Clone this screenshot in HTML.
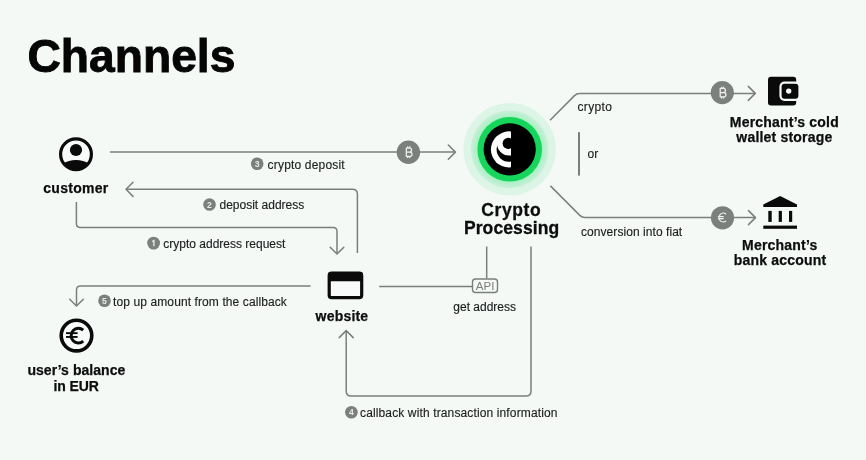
<!DOCTYPE html>
<html><head><meta charset="utf-8">
<style>
html,body{margin:0;padding:0;background:#f4f9f6;width:866px;height:460px;overflow:hidden}
svg{display:block;font-family:"Liberation Sans",sans-serif;will-change:transform}
.ln{fill:none;stroke:#7a7f7b;stroke-width:1.5}
.ah{fill:none;stroke:#7a7f7b;stroke-width:1.5;stroke-linecap:round;stroke-linejoin:round}
.b{font-weight:700;fill:#0d0d0d;font-size:14px;letter-spacing:0.2px;stroke:#0d0d0d;stroke-width:0.25}
.r{font-weight:400;fill:#1e1e1e;font-size:12px;stroke:#1e1e1e;stroke-width:0.15}
.num{font-size:8.6px;font-weight:700;fill:#e8e8e8;text-anchor:middle}
.gc{fill:#7b807c}
</style></head>
<body>
<svg width="866" height="460" viewBox="0 0 866 460">
<defs>
  <radialGradient id="halo2" cx="509.7" cy="149.3" r="38.9" gradientUnits="userSpaceOnUse"><stop offset="0.83" stop-color="#a8f1c3"/><stop offset="1" stop-color="#cbefda"/></radialGradient>
  <clipPath id="cpc"><rect x="480" y="120" width="31" height="60"/></clipPath>
  <clipPath id="custc"><circle cx="76" cy="154.2" r="15.2"/></clipPath>
</defs>

<!-- Title -->
<text x="27.5" y="72" font-size="46.2" font-weight="700" fill="#050505" stroke="#050505" stroke-width="0.9">Channels</text>

<!-- customer icon -->
<circle cx="76" cy="154.2" r="15.4" fill="#f7faf8" stroke="#0a0a0a" stroke-width="3.2"/>
<circle cx="76" cy="150" r="6.1" fill="#0a0a0a"/>
<ellipse cx="76" cy="172" rx="18" ry="12" fill="#0a0a0a" clip-path="url(#custc)"/>
<text class="b" x="75.9" y="192.7" text-anchor="middle" style="letter-spacing:0.3px">customer</text>

<!-- line 3: customer -> CP -->
<path class="ln" d="M110,152.1 H455"/>
<path class="ah" d="M448.3,145 L455.4,152.1 L448.3,159.2"/>
<circle class="gc" cx="408.4" cy="152.2" r="11.7"/>
<g transform="translate(408.9,152.2)" fill="none" stroke="#f0f0f0" stroke-width="1.25" stroke-linejoin="round"><path d="M-2.6,-4.2 H0.6 A2,2 0 0 1 0.6,-0.05 H-2.6 Z M-2.6,-0.05 H1 A2.1,2.1 0 0 1 1,4.2 H-2.6 Z"/><path d="M-1.2,-4.2 V-5.9 M0.8,-4.2 V-5.9 M-1.2,4.2 V5.9 M0.8,4.2 V5.9"/></g>
<circle class="gc" cx="257.2" cy="163.8" r="6.3"/>
<text class="num" x="257.2" y="166.9">3</text>
<text class="r" x="267.6" y="168.7" letter-spacing="0.18">crypto deposit</text>

<!-- line 2: website -> customer -->
<path class="ln" d="M357.4,253 V194.3 Q357.4,189.3 352.4,189.3 H126"/>
<path class="ah" d="M133,182.2 L126,189.3 L133,196.4"/>
<circle class="gc" cx="209.5" cy="204.5" r="6.3"/>
<text class="num" x="209.5" y="207.6">2</text>
<text class="r" x="219.5" y="209.1">deposit address</text>

<!-- line 1: customer -> website -->
<path class="ln" d="M76.4,202 V223.5 Q76.4,227.5 80.4,227.5 H333 Q337,227.5 337,231.5 V254"/>
<path class="ah" d="M330.2,247.2 L337,254 L343.8,247.2"/>
<circle class="gc" cx="153.6" cy="243.1" r="6.4"/>
<path d="M152,240.9 L153.6,239.7 H154.6 V246.3 H153.2 V241.6 L152,242.3 Z" fill="#e6e6e6"/>
<text class="r" x="163.3" y="247.6">crypto address request</text>

<!-- line 5: website -> balance -->
<path class="ln" d="M310.6,286 H80.5 Q76.5,286 76.5,290 V306"/>
<path class="ah" d="M69.7,299.2 L76.5,306 L83.3,299.2"/>
<circle class="gc" cx="104.5" cy="300.7" r="6.3"/>
<text class="num" x="104.5" y="303.8">5</text>
<text class="r" x="113.1" y="305.8" letter-spacing="0.1">top up amount from the callback</text>

<!-- user's balance icon -->
<circle cx="76.5" cy="335.6" r="15.3" fill="#f7faf8" stroke="#0a0a0a" stroke-width="3.6"/>
<path d="M83.2,330.2 A7.2,7.4 0 1 0 83.2,341.2" fill="none" stroke="#0a0a0a" stroke-width="3"/>
<rect x="66" y="332.2" width="11.6" height="1.9" fill="#0a0a0a"/>
<rect x="66" y="336" width="11.6" height="1.9" fill="#0a0a0a"/>
<text class="b" x="76.4" y="375" text-anchor="middle" style="letter-spacing:0.05px">user’s balance</text>
<text class="b" x="76.1" y="390.5" text-anchor="middle" style="letter-spacing:-0.1px">in EUR</text>

<!-- website icon -->
<rect x="329.2" y="273.2" width="32.5" height="24.5" rx="2.5" fill="#f7faf8" stroke="#0a0a0a" stroke-width="3.2"/>
<rect x="328" y="272" width="35" height="9.2" rx="2.5" fill="#0a0a0a"/>
<text class="b" x="342" y="320.7" text-anchor="middle">website</text>

<!-- website -> API -->
<path class="ln" d="M379.2,286.6 H472"/>
<path class="ln" d="M486.7,246.5 V278.3"/>
<rect x="472.5" y="279" width="25" height="13.5" rx="3" fill="#f4f9f6" stroke="#7a7f7b" stroke-width="1.4"/>
<text x="485.1" y="290.2" font-size="11.5" fill="#7a7f7b" text-anchor="middle">API</text>
<text class="r" x="453.3" y="311.4">get address</text>

<!-- callback loop -->
<path class="ln" d="M531,246.5 V391 Q531,396 526,396 H351.2 Q346.2,396 346.2,391 V330.6"/>
<path class="ah" d="M339.2,337.6 L346.2,330.6 L353.2,337.6"/>
<circle class="gc" cx="351.4" cy="412.2" r="6.3"/>
<text class="num" x="351.4" y="415.3">4</text>
<text class="r" x="360" y="417.0" letter-spacing="0.13">callback with transaction information</text>

<!-- CP logo -->
<circle cx="509.7" cy="149.3" r="46.2" fill="#ddf5e6"/>
<circle cx="509.7" cy="149.3" r="38.9" fill="url(#halo2)"/>
<circle cx="509.7" cy="149.3" r="32.3" fill="#15d55b"/>
<circle cx="509.7" cy="149.3" r="26.1" fill="#000"/>
<g clip-path="url(#cpc)">
  <circle cx="508.8" cy="149.5" r="17.9" fill="#fff"/>
  <circle cx="508.8" cy="149.6" r="12.2" fill="#000"/>
  <circle cx="509" cy="143.6" r="12" fill="#fff"/>
  <circle cx="508.2" cy="143.4" r="5.6" fill="#000"/>
</g>
<text x="511.3" y="215.6" font-size="17.5" font-weight="700" fill="#0d0d0d" stroke="#0d0d0d" stroke-width="0.3" letter-spacing="0.6" text-anchor="middle">Crypto</text>
<text x="511.6" y="233.5" font-size="17.5" font-weight="700" fill="#0d0d0d" stroke="#0d0d0d" stroke-width="0.3" letter-spacing="0.1" text-anchor="middle">Processing</text>

<!-- upper branch -->
<path class="ln" d="M550,120.3 L574.5,95.6 Q576.6,93.4 579.6,93.4 H755"/>
<path class="ah" d="M748.3,86.4 L755.3,93.4 L748.3,100.4"/>
<circle class="gc" cx="722.3" cy="92.6" r="11.6"/>
<g transform="translate(722.8,92.6)" fill="none" stroke="#f0f0f0" stroke-width="1.25" stroke-linejoin="round"><path d="M-2.6,-4.2 H0.6 A2,2 0 0 1 0.6,-0.05 H-2.6 Z M-2.6,-0.05 H1 A2.1,2.1 0 0 1 1,4.2 H-2.6 Z"/><path d="M-1.2,-4.2 V-5.9 M0.8,-4.2 V-5.9 M-1.2,4.2 V5.9 M0.8,4.2 V5.9"/></g>
<text class="r" x="577.5" y="110.6" letter-spacing="0.35">crypto</text>
<rect x="578" y="132.2" width="2" height="43.4" fill="#7a7f7b"/>
<text class="r" x="587.5" y="158.0">or</text>

<!-- lower branch -->
<path class="ln" d="M550.4,185.9 L579.8,215.4 Q582,217.6 585,217.6 H755.5"/>
<path class="ah" d="M748.5,210.6 L755.5,217.6 L748.5,224.6"/>
<circle class="gc" cx="722.5" cy="217.8" r="11.6"/>
<g transform="translate(722.5,217.6)" fill="none" stroke="#f0f0f0" stroke-width="1.2"><path d="M3.6,-3.3 A4.3,4.4 0 1 0 3.6,3.3"/><path d="M-4.6,-0.9 H1.2 M-4.6,1 H1.2"/></g>
<text class="r" x="581" y="236.0" letter-spacing="0.06">conversion into fiat</text>

<!-- wallet icon -->
<rect x="768" y="76.8" width="28.2" height="28.6" rx="3" fill="#0a0a0a"/>
<rect x="780.5" y="82.6" width="19" height="17.2" rx="4" fill="#0a0a0a" stroke="#f4f9f6" stroke-width="2.2"/>
<circle cx="788.7" cy="91.1" r="2.7" fill="#f7faf8"/>
<text class="b" x="784.4" y="126.8" text-anchor="middle">Merchant’s cold</text>
<text class="b" x="784.4" y="141.8" text-anchor="middle">wallet storage</text>

<!-- bank icon -->
<path d="M780.2,195.9 L797,204.4 V207 H763.3 V204.4 Z" fill="#0a0a0a"/>
<rect x="768.3" y="210.9" width="3.4" height="11" fill="#0a0a0a"/>
<rect x="778.7" y="210.9" width="3.2" height="11" fill="#0a0a0a"/>
<rect x="789" y="210.9" width="3.2" height="11" fill="#0a0a0a"/>
<rect x="763.3" y="225.6" width="33.7" height="3.2" fill="#0a0a0a"/>
<text class="b" x="779.8" y="250.1" text-anchor="middle">Merchant’s</text>
<text class="b" x="780" y="265.3" text-anchor="middle">bank account</text>
</svg>
</body></html>
